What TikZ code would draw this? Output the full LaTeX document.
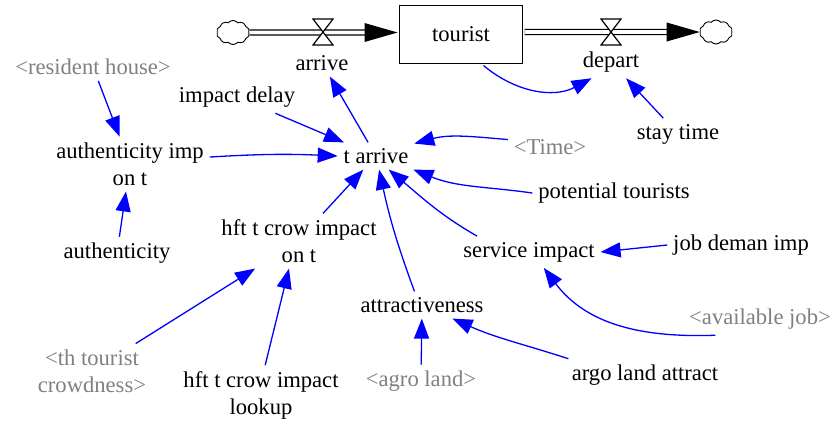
\documentclass[tikz,border=0pt]{standalone}
\usepackage{fontspec}
\setmainfont{Liberation Serif}
\usetikzlibrary{arrows.meta,shapes.symbols,calc}
\definecolor{shadowvar}{RGB}{128,128,128}
\definecolor{linkblue}{RGB}{0,0,255}
\tikzset{
  lbl/.style={font=\fontsize{11.3}{13.5}\selectfont, align=center, inner sep=2pt, outer sep=1pt, text=black},
  shadow/.style={lbl, text=shadowvar},
  stock/.style={lbl, draw=black, line width=0.6pt, minimum width=61.5pt, minimum height=29pt},
  source/.style={cloud, cloud puffs=10, cloud puff arc=100, aspect=1.4, draw=black, line width=0.45pt,
    minimum width=16.5pt, minimum height=12pt, inner sep=0pt},
  pipe/.style={line width=0.7pt, double=white, double distance=1.8pt},
  valveshape/.style={draw=black, fill=white, line width=0.6pt, line join=miter},
  link/.style={draw=linkblue, line width=0.65pt, -{Triangle[length=10pt,width=7.5pt]}, fill=none},
}
\begin{document}
\begin{tikzpicture}[x=0.5pt, y=0.5pt]
\useasboundingbox (0,0) rectangle (833,-425);

% stock-and-flow chain
\node[source] (cloudL) at (233,-32.5) {};
\node[source] (cloudR) at (716,-32) {};
\node[stock] (tourist) at (461,-34.5) {tourist};
\coordinate (va) at (323,-32);
\coordinate (vd) at (611,-32);
\coordinate (inTip) at (cloudL -| tourist.west);
\coordinate (outStart) at (cloudR -| tourist.east);
\coordinate (outTip) at (cloudR.west);

\draw[pipe] (cloudL.east) -- ($(inTip)+(-30,0)$);
\fill[black] ($(inTip)+(-33,-9.5)$) -- (inTip) -- ($(inTip)+(-33,9.5)$) -- cycle;
\draw[pipe] (outStart) -- ($(outTip)+(-30,0)$);
\fill[black] ($(outTip)+(-33,-9.5)$) -- (outTip) -- ($(outTip)+(-33,9.5)$) -- cycle;

\foreach \v in {va,vd}{
  \draw[valveshape] ($(\v)+(-10,13)$) -- ($(\v)+(10,13)$) -- (\v) -- cycle;
  \draw[valveshape] ($(\v)+(-10,-13)$) -- ($(\v)+(10,-13)$) -- (\v) -- cycle;
}
\node[lbl] (arrive) at (322,-63) {arrive};
\node[lbl] (depart) at (611,-62) {depart};

% auxiliary variables
\node[shadow] (resident) at (93,-67) {<resident house>};
\node[lbl] (impdelay) at (237,-97) {impact delay};
\node[lbl] (authimp) at (130,-164) {authenticity imp\\on t};
\node[lbl] (tarrive) at (376,-156) {t arrive};
\node[shadow] (timev) at (550,-147) {<Time>};
\node[lbl] (staytime) at (678,-134) {stay time};
\node[lbl] (potential) at (614,-193) {potential tourists};
\node[lbl] (service) at (529,-252) {service impact};
\node[lbl] (jobdem) at (741,-245) {job deman imp};
\node[lbl] (authent) at (117,-253) {authenticity};
\node[lbl] (hftont) at (299,-241) {hft t crow impact\\on t};
\node[lbl] (attract) at (422,-305) {attractiveness};
\node[shadow] (avail) at (760,-319) {<available job>};
\node[lbl] (argo) at (645,-375) {argo land attract};
\node[shadow] (agro) at (421,-381) {<agro land>};
\node[shadow] (thtour) at (92,-371) {<th tourist\\crowdness>};
\node[lbl] (hftlook) at (261,-395) {hft t crow impact\\lookup};

% causal links
\draw[link] (resident) -- (authimp);
\draw[link] (impdelay) -- (tarrive);
\draw[link] (authimp.5) to[bend left=3] (tarrive.west);
\draw[link] (tarrive) -- (arrive);
\draw[link] (tourist.-54) to[out=-40, in=208] (depart.220);
\draw[link] (staytime) -- (depart);
\draw[link] (timev.170) to[out=175, in=15] (tarrive.18);
\draw[link] (potential.west) to[out=172, in=-22] (tarrive.-20);
\draw[link] (service.163) to[out=150, in=-40] (tarrive.-47);
\draw[link] (attract.119) to[bend left=4] (tarrive.-77);
\draw[link] (jobdem.west) -- (service.east);
\draw[link] (hftont.49) -- (tarrive.227);
\draw[link] (authent) -- (authimp);
\draw[link] (thtour) -- (hftont);
\draw[link] (hftlook.82) -- (hftont.250);
\draw[link] (avail.200) to[out=182, in=-53] (service.-47);
\draw[link] (argo.168) to[out=162, in=-24] (attract.-24);
\draw[link] (agro) -- (attract);
\end{tikzpicture}
\end{document}
